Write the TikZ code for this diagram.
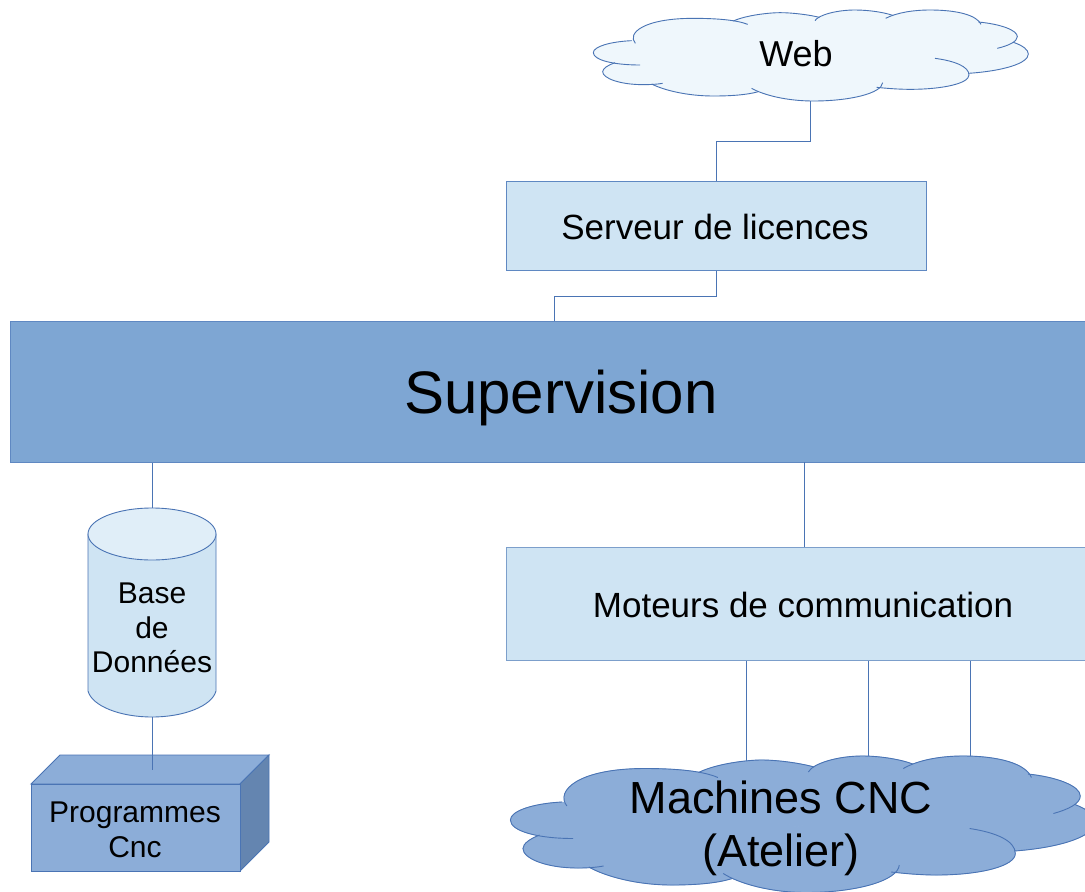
\documentclass[tikz,border=0pt]{standalone}
\usepackage{fontspec}
\setmainfont{Liberation Sans}
\definecolor{edgeblue}{HTML}{4A74B4}
\definecolor{softblue}{HTML}{7C9FCB}
\definecolor{midblue}{HTML}{5F88C2}
\definecolor{barblue}{HTML}{7EA6D3}
\definecolor{paleblue}{HTML}{CFE4F3}
\definecolor{topblue}{HTML}{E0EEF8}
\definecolor{webfill}{HTML}{EFF7FC}
\definecolor{darkfill}{HTML}{8CADD8}
\definecolor{sidefill}{HTML}{6485B0}
\newcommand{\cloudfill}[1]{%
  \foreach \lobe in {%
    {(166,130) .. controls (140,100) and (190,55) .. (340,55) .. controls (410,55) and (470,60) .. (503,73)},
    {(460,63) .. controls (500,45) and (570,38) .. (600,38) .. controls (640,38) and (690,45) .. (718,52)},
    {(705,62) .. controls (715,45) and (770,30) .. (825,30) .. controls (870,30) and (915,38) .. (938,46)},
    {(917,55) .. controls (950,38) and (1000,30) .. (1050,30) .. controls (1130,30) and (1190,45) .. (1203,73)},
    {(1195,66) .. controls (1260,72) and (1312,90) .. (1312,110) .. controls (1312,125) and (1285,137) .. (1252,145)},
    {(1300,127) .. controls (1330,137) and (1345,150) .. (1345,162) .. controls (1345,190) and (1270,213) .. (1165,220)},
    {(1065,175) .. controls (1125,183) and (1167,200) .. (1167,225) .. controls (1167,250) and (1090,268) .. (990,268) .. controls (955,268) and (920,265) .. (890,262)},
    {(908,248) .. controls (905,280) and (810,303) .. (700,303) .. controls (620,303) and (550,285) .. (515,265)},
    {(535,275) .. controls (500,285) and (450,288) .. (400,288) .. controls (320,288) and (250,270) .. (215,252)},
    {(248,250) .. controls (230,253) and (210,254) .. (190,254) .. controls (120,254) and (68,235) .. (68,215) .. controls (68,205) and (85,195) .. (105,188)},
    {(180,195) .. controls (100,195) and (40,180) .. (40,158) .. controls (40,140) and (90,125) .. (155,122)}%
  }{\path[fill=#1,draw=#1,line width=0.6pt] \lobe -- (700,170) -- cycle;}%
  \foreach \lobe in {%
    {(166,130) .. controls (140,100) and (190,55) .. (340,55) .. controls (410,55) and (470,60) .. (503,73)},
    {(460,63) .. controls (500,45) and (570,38) .. (600,38) .. controls (640,38) and (690,45) .. (718,52)},
    {(705,62) .. controls (715,45) and (770,30) .. (825,30) .. controls (870,30) and (915,38) .. (938,46)},
    {(917,55) .. controls (950,38) and (1000,30) .. (1050,30) .. controls (1130,30) and (1190,45) .. (1203,73)},
    {(1195,66) .. controls (1260,72) and (1312,90) .. (1312,110) .. controls (1312,125) and (1285,137) .. (1252,145)},
    {(1300,127) .. controls (1330,137) and (1345,150) .. (1345,162) .. controls (1345,190) and (1270,213) .. (1165,220)},
    {(1065,175) .. controls (1125,183) and (1167,200) .. (1167,225) .. controls (1167,250) and (1090,268) .. (990,268) .. controls (955,268) and (920,265) .. (890,262)},
    {(908,248) .. controls (905,280) and (810,303) .. (700,303) .. controls (620,303) and (550,285) .. (515,265)},
    {(535,275) .. controls (500,285) and (450,288) .. (400,288) .. controls (320,288) and (250,270) .. (215,252)},
    {(248,250) .. controls (230,253) and (210,254) .. (190,254) .. controls (120,254) and (68,235) .. (68,215) .. controls (68,205) and (85,195) .. (105,188)},
    {(180,195) .. controls (100,195) and (40,180) .. (40,158) .. controls (40,140) and (90,125) .. (155,122)}%
  }{\draw[edge] \lobe;}%
}
\tikzset{
  edge/.style={draw=edgeblue,line width=0.9pt},
  conn/.style={edge},
  blockbox/.style={draw=softblue,line width=0.9pt,inner sep=0pt,anchor=north west},
  label/.style={inner sep=0pt,align=center,text=black}
}
\begin{document}
\begin{tikzpicture}[x=1pt,y=-1pt]
\useasboundingbox (0,0) rectangle (1085,892);
\clip (0,0) rectangle (1085,892);
\fill[white] (0,0) rectangle (1085,892);

% named connection points
\coordinate (webbot) at (810,101);
\coordinate (cyltop) at (152,508);
\coordinate (cylbot) at (152,717);
\coordinate (boxtop) at (152,770);
\coordinate (cncA) at (746,762);
\coordinate (cncB) at (868,757);
\coordinate (cncC) at (970,757);
\coordinate (supA) at (554,321);
\coordinate (supB) at (804,462);

% clouds
\begin{scope}[shift={(580pt,0pt)},x=0.33333pt,y=-0.33333pt]
  \cloudfill{webfill}
\end{scope}

% rectangles
\node[blockbox,draw=midblue,fill=paleblue,minimum width=420pt,minimum height=89pt] (serveur) at (506,181) {};
\node[label,font=\fontsize{35}{40}\selectfont] (servtxt) at (715,227) {Serveur de licences};
\node[blockbox,draw=midblue,fill=barblue,minimum width=1102pt,minimum height=141pt] (sup) at (10,321) {};
\node[label,font=\fontsize{60}{66}\selectfont] (suptxt) at (561,398) {Supervision};
\node[blockbox,fill=paleblue,minimum width=594pt,minimum height=113pt] (mot) at (506,547) {};
\node[label,font=\fontsize{35}{40}\selectfont] (mottxt) at (803,605) {Moteurs de communication};

% connectors
\draw[conn] (webbot) -- (webbot |- 0,141) -- (serveur.north |- 0,141) -- (serveur.north);
\draw[conn] (serveur.south) -- (serveur.south |- 0,296) -- (supA |- 0,296) -- (supA);
\draw[conn] (sup.south -| cyltop) -- (cyltop);
\draw[conn] (supB) -- (supB |- mot.north);
\draw[conn] (mot.south -| cncA) -- (cncA);
\draw[conn] (mot.south -| cncB) -- (cncB);
\draw[conn] (mot.south -| cncC) -- (cncC);

% machines cloud
\begin{scope}[shift={(492.5pt,-741pt)},x=0.448pt,y=-0.5pt]
  \cloudfill{darkfill}
\end{scope}

% cylinder
\draw[edge,fill=paleblue] (88,534) -- (88,691) .. controls (92,706) and (120,717) .. (152,717)
  .. controls (184,717) and (212,706) .. (216,691) -- (216,534) -- cycle;
\draw[edge,fill=topblue] (152,534) ellipse [x radius=64pt,y radius=26pt];

% box
\draw[edge,fill=darkfill] (31,784) -- (60,755) -- (269,755) -- (240,784) -- cycle;
\draw[edge,fill=sidefill] (240,784) -- (269,755) -- (269,842) -- (240,871) -- cycle;
\draw[edge,fill=darkfill] (31,784) rectangle (240,871);
\draw[conn] (cylbot) -- (boxtop);

% labels
\node[label,font=\fontsize{36}{41}\selectfont] (webtxt) at (796,54) {Web};
\node[label,font=\fontsize{45}{53}\selectfont] (cnctxt) at (781,828) {Machines CNC\\(Atelier)};
\node[label,font=\fontsize{30}{34.5}\selectfont] (bddtxt) at (152,628) {Base\\de\\Données};
\node[label,font=\fontsize{30}{35}\selectfont] (prog) at (135,830) {Programmes\\Cnc};
\end{tikzpicture}
\end{document}
